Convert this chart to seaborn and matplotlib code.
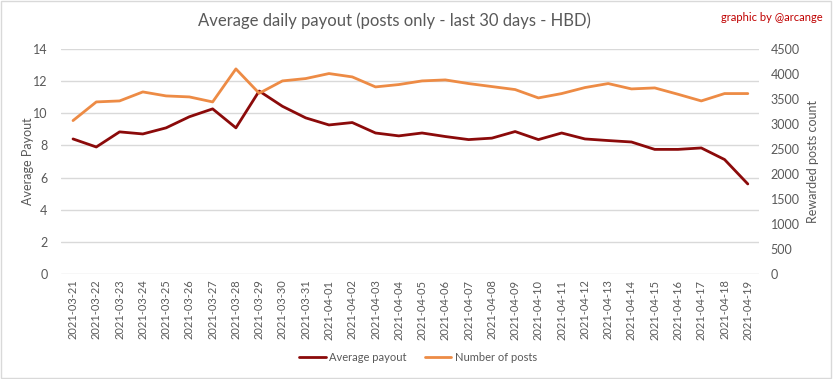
import seaborn as sns
import pandas as pd
import matplotlib.pyplot as plt
import matplotlib.ticker as ticker
from matplotlib.lines import Line2D

dates = [
    "2021-03-21", "2021-03-22", "2021-03-23", "2021-03-24", "2021-03-25",
    "2021-03-26", "2021-03-27", "2021-03-28", "2021-03-29", "2021-03-30",
    "2021-03-31", "2021-04-01", "2021-04-02", "2021-04-03", "2021-04-04",
    "2021-04-05", "2021-04-06", "2021-04-07", "2021-04-08", "2021-04-09",
    "2021-04-10", "2021-04-11", "2021-04-12", "2021-04-13", "2021-04-14",
    "2021-04-15", "2021-04-16", "2021-04-17", "2021-04-18", "2021-04-19",
]
avg_payout = [
    8.40, 7.90, 8.84, 8.71, 9.09, 9.78, 10.27, 9.09, 11.38, 10.43,
    9.71, 9.27, 9.42, 8.77, 8.59, 8.77, 8.55, 8.36, 8.45, 8.86,
    8.36, 8.77, 8.40, 8.30, 8.21, 7.75, 7.75, 7.84, 7.12, 5.60,
]
num_posts = [
    3067, 3440, 3460, 3640, 3560, 3540, 3440, 4100, 3613, 3860,
    3907, 4007, 3940, 3740, 3787, 3860, 3880, 3807, 3747, 3687,
    3520, 3607, 3727, 3807, 3700, 3720, 3593, 3460, 3607, 3607,
]

df = pd.DataFrame({"date": dates, "payout": avg_payout, "posts": num_posts})

sns.set_style("white")
plt.rcParams["font.family"] = ["Lato", "DejaVu Sans"]

text_col = "#595959"
red = "#8B0A0A"
orange = "#ED8B45"

fig = plt.figure(figsize=(8.33, 3.79), dpi=100)
ax1 = fig.add_axes([0.0737, 0.277, 0.838, 0.594])

sns.lineplot(data=df, x="date", y="payout", color=red, linewidth=2, ax=ax1, sort=False)
ax1.set_xlim(-0.5, len(dates) - 0.5)
ax1.set_ylim(0, 14)
ax1.yaxis.set_major_locator(ticker.MultipleLocator(2))
ax1.grid(axis="y", color="#d9d9d9", linewidth=1)
ax1.set_axisbelow(True)
ax1.set_xlabel("")
ax1.set_ylabel("Average Payout", color=text_col, fontsize=9, labelpad=-1)
ax1.tick_params(axis="x", rotation=90, labelsize=8, colors=text_col, length=0, pad=4)
ax1.tick_params(axis="y", labelsize=9, colors=text_col, length=0, pad=10)

ax2 = ax1.twinx()
sns.lineplot(data=df, x="date", y="posts", color=orange, linewidth=2, ax=ax2, sort=False)
ax2.set_ylim(0, 4500)
ax2.yaxis.set_major_locator(ticker.MultipleLocator(500))
ax2.set_ylabel("Rewarded posts count", color=text_col, fontsize=9, labelpad=5)
ax2.tick_params(axis="y", labelsize=9, colors=text_col, length=0, pad=8)
ax2.set_xlim(-0.5, len(dates) - 0.5)

for a in (ax1, ax2):
    for s in a.spines.values():
        s.set_visible(False)

fig.text(0.474, 0.945, "Average daily payout (posts only - last 30 days - HBD)",
         ha="center", va="center", fontsize=12, color=text_col)
fig.text(0.988, 0.955, "graphic by @arcange", ha="right", va="center",
         fontsize=8, color="#C00000")

handles = [Line2D([], [], color=red, linewidth=2),
           Line2D([], [], color=orange, linewidth=2)]
fig.legend(handles, ["Average payout", "Number of posts"], loc="center",
           bbox_to_anchor=(0.502, 0.058), ncol=2, frameon=False, fontsize=8,
           labelcolor=text_col, handlelength=2.4, handletextpad=0.3,
           columnspacing=1.6)

fig.patches.append(plt.Rectangle((0.001, 0.002), 0.997, 0.995, transform=fig.transFigure,
                                 fill=False, edgecolor="#d9d9d9", linewidth=1))

fig.savefig("out.png", dpi=100)
